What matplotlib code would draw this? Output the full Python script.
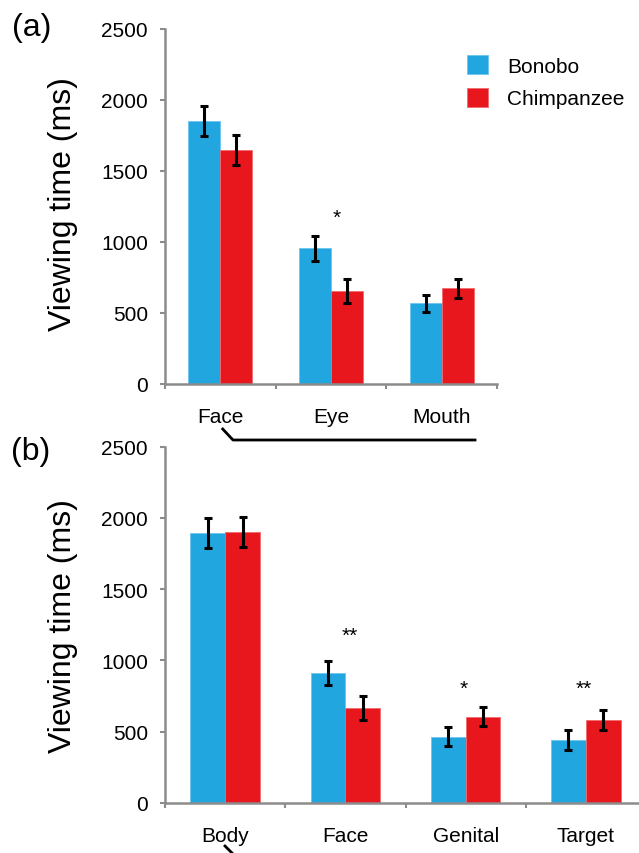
import matplotlib.pyplot as plt
import numpy as np

plt.rcParams['font.family'] = ['Liberation Sans', 'DejaVu Sans']

# panel (a): face regions
cats_a = ['Face', 'Eye', 'Mouth']
bonobo_a = [1850, 955, 568]
bonobo_a_err = [105, 87, 60]
chimp_a = [1650, 657, 674]
chimp_a_err = [105, 85, 65]
stars_a = ['', '*', '']
star_y_a = [0, 1220, 0]

# panel (b): body regions
cats_b = ['Body', 'Face', 'Genital', 'Target']
bonobo_b = [1893, 912, 465, 442]
bonobo_b_err = [105, 83, 65, 70]
chimp_b = [1900, 664, 605, 582]
chimp_b_err = [107, 84, 65, 68]
stars_b = ['', '**', '*', '**']
star_y_b = [0, 1220, 846, 846]

yticks = [0, 500, 1000, 1500, 2000, 2500]

blue = '#21a6df'
red = '#e8171d'
grey = '#8c8c8c'

W, H = 639, 854
fig = plt.figure(figsize=(W / 100, H / 100), dpi=100)


def px_axes(left, top, right, bottom):
    return fig.add_axes([left / W, 1 - bottom / H, (right - left) / W, (bottom - top) / H])


def draw_panel(ax, cats, b, be, c, ce, stars, star_y, star_dx):
    n = len(cats)
    x = np.arange(n) + 0.5
    w = 0.29
    ekw = dict(ecolor='black', elinewidth=2.2, capsize=2.8, capthick=2.2)
    ax.bar(x - w / 2, b, w, color=blue, edgecolor='#6cc6ee', linewidth=0.6,
           yerr=be, error_kw=ekw, label='Bonobo', zorder=2)
    ax.bar(x + w / 2, c, w, color=red, edgecolor='#f06a6e', linewidth=0.6,
           yerr=ce, error_kw=ekw, label='Chimpanzee', zorder=2)
    for xi, s, sy, dx in zip(x, stars, star_y, star_dx):
        if s:
            ax.annotate(s, (xi + dx, sy), xytext=(0, -8.5), textcoords='offset points',
                        ha='center', va='baseline', fontsize=15)
    ax.set_xlim(0, n)
    ax.set_ylim(0, 2500)
    ax.set_yticks(yticks)
    ax.set_xticks(x)
    ax.set_xticklabels(cats)
    ax.set_xticks(np.arange(n + 1), minor=True)
    ax.tick_params(axis='x', which='major', length=0, pad=16.5, labelsize=15)
    ax.tick_params(axis='x', which='minor', length=3.5, width=1.5, color=grey, direction='out')
    ax.tick_params(axis='y', length=3.6, width=1.5, color=grey, labelsize=15, pad=8.6)
    for s in ['top', 'right']:
        ax.spines[s].set_visible(False)
    for s in ['left', 'bottom']:
        ax.spines[s].set_color(grey)
        ax.spines[s].set_linewidth(1.8)


ax_a = px_axes(165, 30, 497, 385)
draw_panel(ax_a, cats_a, bonobo_a, bonobo_a_err, chimp_a, chimp_a_err, stars_a, star_y_a,
           [0, 0.05, 0])
ax_a.legend(loc='upper left', bbox_to_anchor=(0.886, 0.95), frameon=False, fontsize=15,
            handlelength=1.0, handleheight=1.0, handletextpad=0.9, labelspacing=0.6,
            borderaxespad=0.0)

ax_b = px_axes(165, 447.6, 646, 804)
draw_panel(ax_b, cats_b, bonobo_b, bonobo_b_err, chimp_b, chimp_b_err, stars_b, star_y_b,
           [0, 0.04, -0.02, -0.02])

fig.text(63 / W, 1 - 204 / H, 'Viewing time (ms)', rotation=90, ha='center', va='center', fontsize=23)
fig.text(63 / W, 1 - 626 / H, 'Viewing time (ms)', rotation=90, ha='center', va='center', fontsize=23)
fig.text(32 / W, 1 - 28 / H, '(a)', ha='center', va='center', fontsize=23)
fig.text(31 / W, 1 - 452 / H, '(b)', ha='center', va='center', fontsize=23)

# bracket lines under the x labels
fig.add_artist(plt.Line2D(np.array([222.7, 233, 475]) / W, 1 - np.array([430, 441, 441]) / H,
                          color='black', lw=2))
fig.add_artist(plt.Line2D(np.array([225, 236]) / W, 1 - np.array([847, 858]) / H,
                          color='black', lw=2))

fig.savefig('out.png', dpi=100)
